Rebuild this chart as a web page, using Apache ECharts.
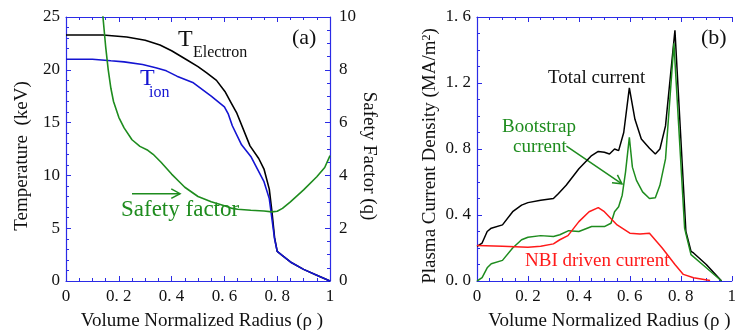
<!DOCTYPE html>
<html>
<head>
<meta charset="utf-8">
<script src="https://cdn.jsdelivr.net/npm/echarts@6/dist/echarts.min.js"></script>
<style>
  html, body { margin: 0; padding: 0; background: #fff; }
  #chart { width: 739px; height: 336px; }
</style>
</head>
<body>
<div id="chart"></div>
<script>
// ---- panel (a): temperatures and safety factor ----
const rhoTe = [0, 0.1, 0.14, 0.23, 0.3, 0.356, 0.4, 0.457, 0.5, 0.533, 0.57, 0.602, 0.625, 0.646, 0.697, 0.73, 0.75, 0.77, 0.78, 0.79, 0.8, 0.82, 0.85, 0.9, 0.95, 1.0];
const tElectron = [23.3, 23.3, 23.3, 23.1, 22.8, 22.35, 21.8, 20.95, 20.3, 19.7, 19.0, 17.95, 16.9, 15.95, 12.8, 11.6, 10.6, 8.7, 6.6, 4.1, 2.8, 2.4, 1.8, 1.1, 0.55, 0.0];

const rhoTi = [0, 0.1, 0.17, 0.22, 0.29, 0.34, 0.38, 0.42, 0.48, 0.55, 0.6, 0.615, 0.63, 0.665, 0.7, 0.75, 0.77, 0.78, 0.79, 0.8, 0.82, 0.85, 0.9, 0.95, 1.0];
const tIon = [21.0, 21.0, 20.85, 20.75, 20.5, 20.2, 19.9, 19.4, 18.8, 17.5, 16.5, 15.8, 14.7, 12.9, 11.8, 9.4, 7.8, 5.9, 4.0, 2.8, 2.4, 1.8, 1.1, 0.55, 0.0];

const rhoQ = [0.13, 0.14, 0.15, 0.16, 0.17, 0.18, 0.2, 0.22, 0.25, 0.28, 0.31, 0.33, 0.36, 0.4, 0.43, 0.45, 0.5, 0.55, 0.6, 0.63, 0.65, 0.7, 0.75, 0.78, 0.8, 0.82, 0.85, 0.9, 0.95, 0.98, 1.0];
const safetyQ = [11.5, 10.0, 8.9, 8.0, 7.3, 6.8, 6.2, 5.8, 5.35, 5.1, 4.95, 4.8, 4.5, 4.05, 3.75, 3.55, 3.2, 3.0, 2.85, 2.75, 2.72, 2.68, 2.65, 2.62, 2.64, 2.75, 3.0, 3.45, 3.95, 4.3, 4.75];

// ---- panel (b): current densities ----
const rhoTot = [0, 0.02, 0.04, 0.056, 0.1, 0.14, 0.175, 0.2, 0.25, 0.3, 0.32, 0.35, 0.4, 0.45, 0.476, 0.5, 0.52, 0.54, 0.556, 0.576, 0.598, 0.62, 0.645, 0.677, 0.7, 0.718, 0.74, 0.777, 0.82, 0.84, 0.85, 0.9, 0.96];
const jTotal = [0.21, 0.23, 0.30, 0.32, 0.34, 0.42, 0.46, 0.475, 0.49, 0.50, 0.53, 0.58, 0.68, 0.76, 0.785, 0.78, 0.77, 0.80, 0.79, 0.90, 1.17, 0.98, 0.86, 0.805, 0.77, 0.80, 0.94, 1.52, 0.30, 0.18, 0.17, 0.10, 0.0];

const rhoBs = [0, 0.02, 0.04, 0.056, 0.1, 0.14, 0.175, 0.2, 0.25, 0.3, 0.325, 0.36, 0.4, 0.45, 0.5, 0.526, 0.54, 0.556, 0.57, 0.583, 0.598, 0.61, 0.626, 0.65, 0.677, 0.7, 0.718, 0.74, 0.773, 0.815, 0.84, 0.9, 0.96];
const jBootstrap = [0.0, 0.02, 0.08, 0.105, 0.125, 0.20, 0.25, 0.265, 0.275, 0.27, 0.28, 0.305, 0.30, 0.33, 0.33, 0.35, 0.42, 0.45, 0.52, 0.66, 0.87, 0.69, 0.61, 0.54, 0.50, 0.505, 0.58, 0.74, 1.44, 0.32, 0.16, 0.08, 0.0];

const rhoNbi = [0, 0.1, 0.2, 0.25, 0.3, 0.325, 0.357, 0.4, 0.44, 0.476, 0.5, 0.55, 0.6, 0.64, 0.677, 0.727, 0.777, 0.81, 0.85, 0.915];
const jNbi = [0.215, 0.21, 0.205, 0.21, 0.225, 0.25, 0.275, 0.36, 0.42, 0.445, 0.42, 0.34, 0.29, 0.285, 0.29, 0.20, 0.10, 0.04, 0.02, 0.003];

const AXIS_BLUE = '#2b2be6';
const SERIF = 'Liberation Serif';
const GREEN = '#1e8c1e';

function zip(xs, ys) { return xs.map((x, i) => [x, ys[i]]); }

function fmtX(v) {
    if (v === 0) return '0';
    if (Math.abs(v - 1) < 1e-9) return '1';
    return v.toFixed(1).replace('.', '. ');
}

function baseAxis(extra) {
    return Object.assign({
        type: 'value',
        axisLine: { onZero: false, lineStyle: { color: AXIS_BLUE, width: 1.2 } },
        axisTick: { inside: true, length: 5, lineStyle: { color: AXIS_BLUE, width: 1 } },
        splitLine: { show: false },
        axisLabel: { color: '#111', fontFamily: SERIF, fontSize: 17 },
        nameTextStyle: { color: '#111', fontFamily: SERIF, fontSize: 19 }
    }, extra);
}

function minor(n) {
    return { show: true, splitNumber: n, length: 3, lineStyle: { color: AXIS_BLUE, width: 1 } };
}

function nameStyle(padding) {
    return { color: '#111', fontFamily: SERIF, fontSize: 19, padding: padding };
}

const chart = echarts.init(document.getElementById('chart'));

const options = {
    animation: false,
    backgroundColor: '#fff',
    grid: [
        { left: 66, top: 17, width: 264, height: 266 },
        { left: 477, top: 17, width: 266, height: 266 }
    ],
    xAxis: [
        baseAxis({
            gridIndex: 0, min: 0, max: 1, interval: 0.2, minorTick: minor(4),
            axisLabel: { color: '#111', fontFamily: SERIF, fontSize: 17, margin: 7, formatter: fmtX },
            name: 'Volume Normalized Radius (\u03c1 )', nameLocation: 'middle', nameGap: 31,
            nameTextStyle: nameStyle([0, 0, 0, 8])
        }),
        baseAxis({
            gridIndex: 0, position: 'top', min: 0, max: 1, interval: 0.2, minorTick: minor(4),
            axisLabel: { show: false }
        }),
        baseAxis({
            gridIndex: 1, min: 0, max: 1, interval: 0.2, minorTick: minor(4),
            axisLabel: { color: '#111', fontFamily: SERIF, fontSize: 17, margin: 7, formatter: fmtX },
            name: 'Volume Normalized Radius (\u03c1 )', nameLocation: 'middle', nameGap: 31,
            nameTextStyle: nameStyle([0, 0, 0, 10])
        }),
        baseAxis({
            gridIndex: 1, position: 'top', min: 0, max: 1, interval: 0.2, minorTick: minor(4),
            axisLabel: { show: false }
        })
    ],
    yAxis: [
        baseAxis({
            gridIndex: 0, min: 0, max: 25, interval: 5, minorTick: minor(5),
            axisLabel: { color: '#111', fontFamily: SERIF, fontSize: 17, margin: 6 },
            name: 'Temperature  (keV)', nameLocation: 'middle', nameGap: 34,
            nameTextStyle: nameStyle([0, 14, 0, 0])
        }),
        baseAxis({
            gridIndex: 0, position: 'right', min: 0, max: 10, interval: 2, minorTick: minor(4),
            axisLabel: { color: '#111', fontFamily: SERIF, fontSize: 17, margin: 9 },
            name: 'Safety Factor (q)', nameLocation: 'middle', nameGap: 28, nameRotate: -90,
            nameTextStyle: nameStyle([0, 0, 0, 14])
        }),
        baseAxis({
            gridIndex: 1, min: 0, max: 1.6, interval: 0.4, minorTick: minor(4),
            axisLabel: {
                color: '#111', fontFamily: SERIF, fontSize: 17, margin: 6,
                formatter: v => v.toFixed(1).replace('.', '. ')
            },
            name: 'Plasma Current Density (MA/m{sup|2})', nameLocation: 'middle', nameGap: 37,
            nameTextStyle: {
                color: '#111', fontFamily: SERIF, fontSize: 19, padding: [0, 14, 0, 0],
                rich: { sup: { fontFamily: SERIF, fontSize: 12, verticalAlign: 'top', color: '#111' } }
            }
        })
    ],
    series: [
        { name: 'T_Electron', type: 'line', xAxisIndex: 0, yAxisIndex: 0, showSymbol: false,
          data: zip(rhoTe, tElectron), lineStyle: { color: '#000', width: 1.6 }, itemStyle: { color: '#000' } },
        { name: 'T_ion', type: 'line', xAxisIndex: 0, yAxisIndex: 0, showSymbol: false,
          data: zip(rhoTi, tIon), lineStyle: { color: '#1414d2', width: 1.6 }, itemStyle: { color: '#1414d2' } },
        { name: 'Safety factor', type: 'line', xAxisIndex: 0, yAxisIndex: 1, showSymbol: false, clip: true,
          data: zip(rhoQ, safetyQ), lineStyle: { color: GREEN, width: 1.6 }, itemStyle: { color: GREEN } },
        { name: 'Total current', type: 'line', xAxisIndex: 2, yAxisIndex: 2, showSymbol: false,
          data: zip(rhoTot, jTotal), lineStyle: { color: '#000', width: 1.5 }, itemStyle: { color: '#000' } },
        { name: 'Bootstrap current', type: 'line', xAxisIndex: 2, yAxisIndex: 2, showSymbol: false,
          data: zip(rhoBs, jBootstrap), lineStyle: { color: GREEN, width: 1.5 }, itemStyle: { color: GREEN } },
        { name: 'NBI driven current', type: 'line', xAxisIndex: 2, yAxisIndex: 2, showSymbol: false,
          data: zip(rhoNbi, jNbi), lineStyle: { color: '#ff1a1a', width: 1.5 }, itemStyle: { color: '#ff1a1a' } }
    ]
};

chart.setOption(options);

// arrows, anchored in data coordinates
function arrow(axes, from, to, color) {
    const p0 = chart.convertToPixel(axes, from);
    const p1 = chart.convertToPixel(axes, to);
    const ang = Math.atan2(p1[1] - p0[1], p1[0] - p0[0]);
    const hl = 10, hw = 0.5;
    const h1 = [p1[0] - hl * Math.cos(ang - hw), p1[1] - hl * Math.sin(ang - hw)];
    const h2 = [p1[0] - hl * Math.cos(ang + hw), p1[1] - hl * Math.sin(ang + hw)];
    return [
        { type: 'polyline', shape: { points: [p0, p1] }, style: { stroke: color, lineWidth: 1.5, fill: null } },
        { type: 'polyline', shape: { points: [h1, p1, h2] }, style: { stroke: color, lineWidth: 1.5, fill: null } }
    ];
}

function label(text, left, top, size, color) {
    return { type: 'text', left: left, top: top,
             style: { text: text, fill: color, font: size + 'px "' + SERIF + '"' } };
}

chart.setOption({
    graphic: [
        label('(a)', 292, 27, 22, '#111'),
        label('(b)', 701, 27, 22, '#111'),
        label('T', 178, 28, 24, '#111'),
        label('Electron', 193, 45, 16, '#111'),
        label('T', 140, 67, 24, '#1414d2'),
        label('ion', 149, 85, 16, '#1414d2'),
        label('Safety factor', 121, 198, 23, GREEN),
        label('Total current', 548, 69, 19, '#111'),
        label('Bootstrap', 502, 118, 19, GREEN),
        label('current', 513, 138, 19, GREEN),
        label('NBI driven current', 525, 252, 19, '#ff1a1a')
    ].concat(
        arrow({ xAxisIndex: 0, yAxisIndex: 0 }, [0.25, 8.27], [0.432, 8.27], GREEN),
        arrow({ xAxisIndex: 2, yAxisIndex: 2 }, [0.351, 0.818], [0.569, 0.589], GREEN)
    )
});
</script>
</body>
</html>
